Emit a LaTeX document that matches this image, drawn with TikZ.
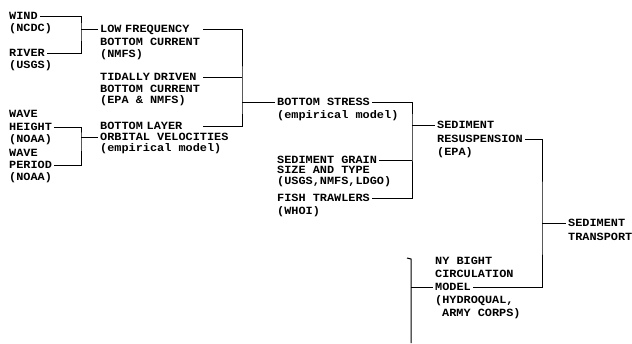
\documentclass[tikz,border=0pt]{standalone}
\usepackage{fontspec}
\setmonofont{Liberation Mono}[FakeStretch=1.08]
\usepackage{tikz}
\usetikzlibrary{calc}
\tikzset{
  txt/.style={anchor=west, inner xsep=2pt, inner ysep=0pt, text height=6.4pt, text depth=0pt,
    font=\ttfamily\bfseries\fontsize{11}{11}\selectfont},
  fixw/.style={text width=101pt, align=left},
  wire/.style={line width=1pt},
}

\begin{document}
\begin{tikzpicture}[x=1pt,y=-1pt]
        \useasboundingbox (0,0) rectangle (632,343);
        % Inputs (first column)
        \node[txt] (wind) at (7,16) {WIND};
        \node[txt] (ncdc) at (7,28) {(NCDC)};
        \node[txt] (river) at (7,53) {RIVER};
        \node[txt] (usgs) at (7,65) {(USGS)};
        \node[txt] (wave1) at (7,114) {WAVE};
        \node[txt] (height) at (7,127) {HEIGHT};
        \node[txt] (noaa1) at (7,139) {(NOAA)};
        \node[txt] (wave2) at (7,153) {WAVE};
        \node[txt] (period) at (7,165) {PERIOD};
        \node[txt] (noaa2) at (7,177) {(NOAA)};
        % Bottom currents and velocities
        \node[txt,fixw] (lowfreq) at (98,29) {LOW FREQUENCY};
        \node[txt] (lowfreq2) at (98,42) {BOTTOM CURRENT};
        \node[txt] (nmfs) at (98,54) {(NMFS)};
        \node[txt,fixw] (tidal) at (98,77) {TIDALLY DRIVEN};
        \node[txt] (tidal2) at (98,89) {BOTTOM CURRENT};
        \node[txt] (epanmfs) at (98,100) {(EPA \& NMFS)};
        \node[txt,fixw] (layer) at (98,126) {BOTTOM LAYER};
        \node[txt] (orbital) at (98,137) {ORBITAL VELOCITIES};
        \node[txt] (empir1) at (98,148) {(empirical model)};
        % Stress, grain size, trawlers
        \node[txt] (stress) at (275,102) {BOTTOM STRESS};
        \node[txt] (empir2) at (275,115) {(empirical model)};
        \node[txt] (grain) at (275,160) {SEDIMENT GRAIN};
        \node[txt] (grain2) at (275,170) {SIZE AND TYPE};
        \node[txt] (grain3) at (275,181) {(USGS,NMFS,LDGO)};
        \node[txt] (fish) at (275,198) {FISH TRAWLERS};
        \node[txt] (whoi) at (275,211) {(WHOI)};
        % Resuspension and circulation model
        \node[txt] (sedres) at (435,125) {SEDIMENT};
        \node[txt] (resusp) at (435,139) {RESUSPENSION};
        \node[txt] (epa) at (435,152) {(EPA)};
        \node[txt] (nybight) at (433,261) {NY BIGHT};
        \node[txt] (circ) at (433,274) {CIRCULATION};
        \node[txt] (model) at (433,287) {MODEL};
        \node[txt] (hydro) at (433,300) {(HYDROQUAL,};
        \node[txt] (army) at (440,313) {ARMY CORPS)};
        % Output
        \node[txt] (sedtr) at (566,223) {SEDIMENT};
        \node[txt] (transport) at (566,237) {TRANSPORT};
        % Junctions
        \coordinate (j1) at (81,29);
        \coordinate (j2) at (242,102);
        \coordinate (j3) at (81,137);
        \coordinate (j4) at (412,125);
        \coordinate (j5) at (542,223);
        \coordinate (btop) at (411,259);
        \coordinate (bbot) at (411,343);
        % Connectors
        \draw[wire] (wind.east) -| (j1) |- (river.east);
        \draw[wire] (j1) -- (lowfreq.west);
        \draw[wire] (height.east) -| (j3) |- (period.east);
        \draw[wire] (j3) -- (orbital.west);
        \draw[wire] (lowfreq.east) -| (j2) |- (layer.east);
        \draw[wire] (tidal.east) -- (tidal.east -| j2);
        \draw[wire] (j2) -- (stress.west);
        \draw[wire] (stress.east) -| (j4) |- (fish.east);
        \draw[wire] (grain.east) -- (grain.east -| j4);
        \draw[wire] (j4) -- (sedres.west);
        \draw[wire] (resusp.east) -| (j5) |- (model.east);
        \draw[wire] (j5) -- (sedtr.west);
        \draw[wire] ($(btop)+(-4,-1)$) -- (btop) -- (bbot);
        \draw[wire] (model.west -| btop) -- (model.west);
      \end{tikzpicture}
\end{document}
